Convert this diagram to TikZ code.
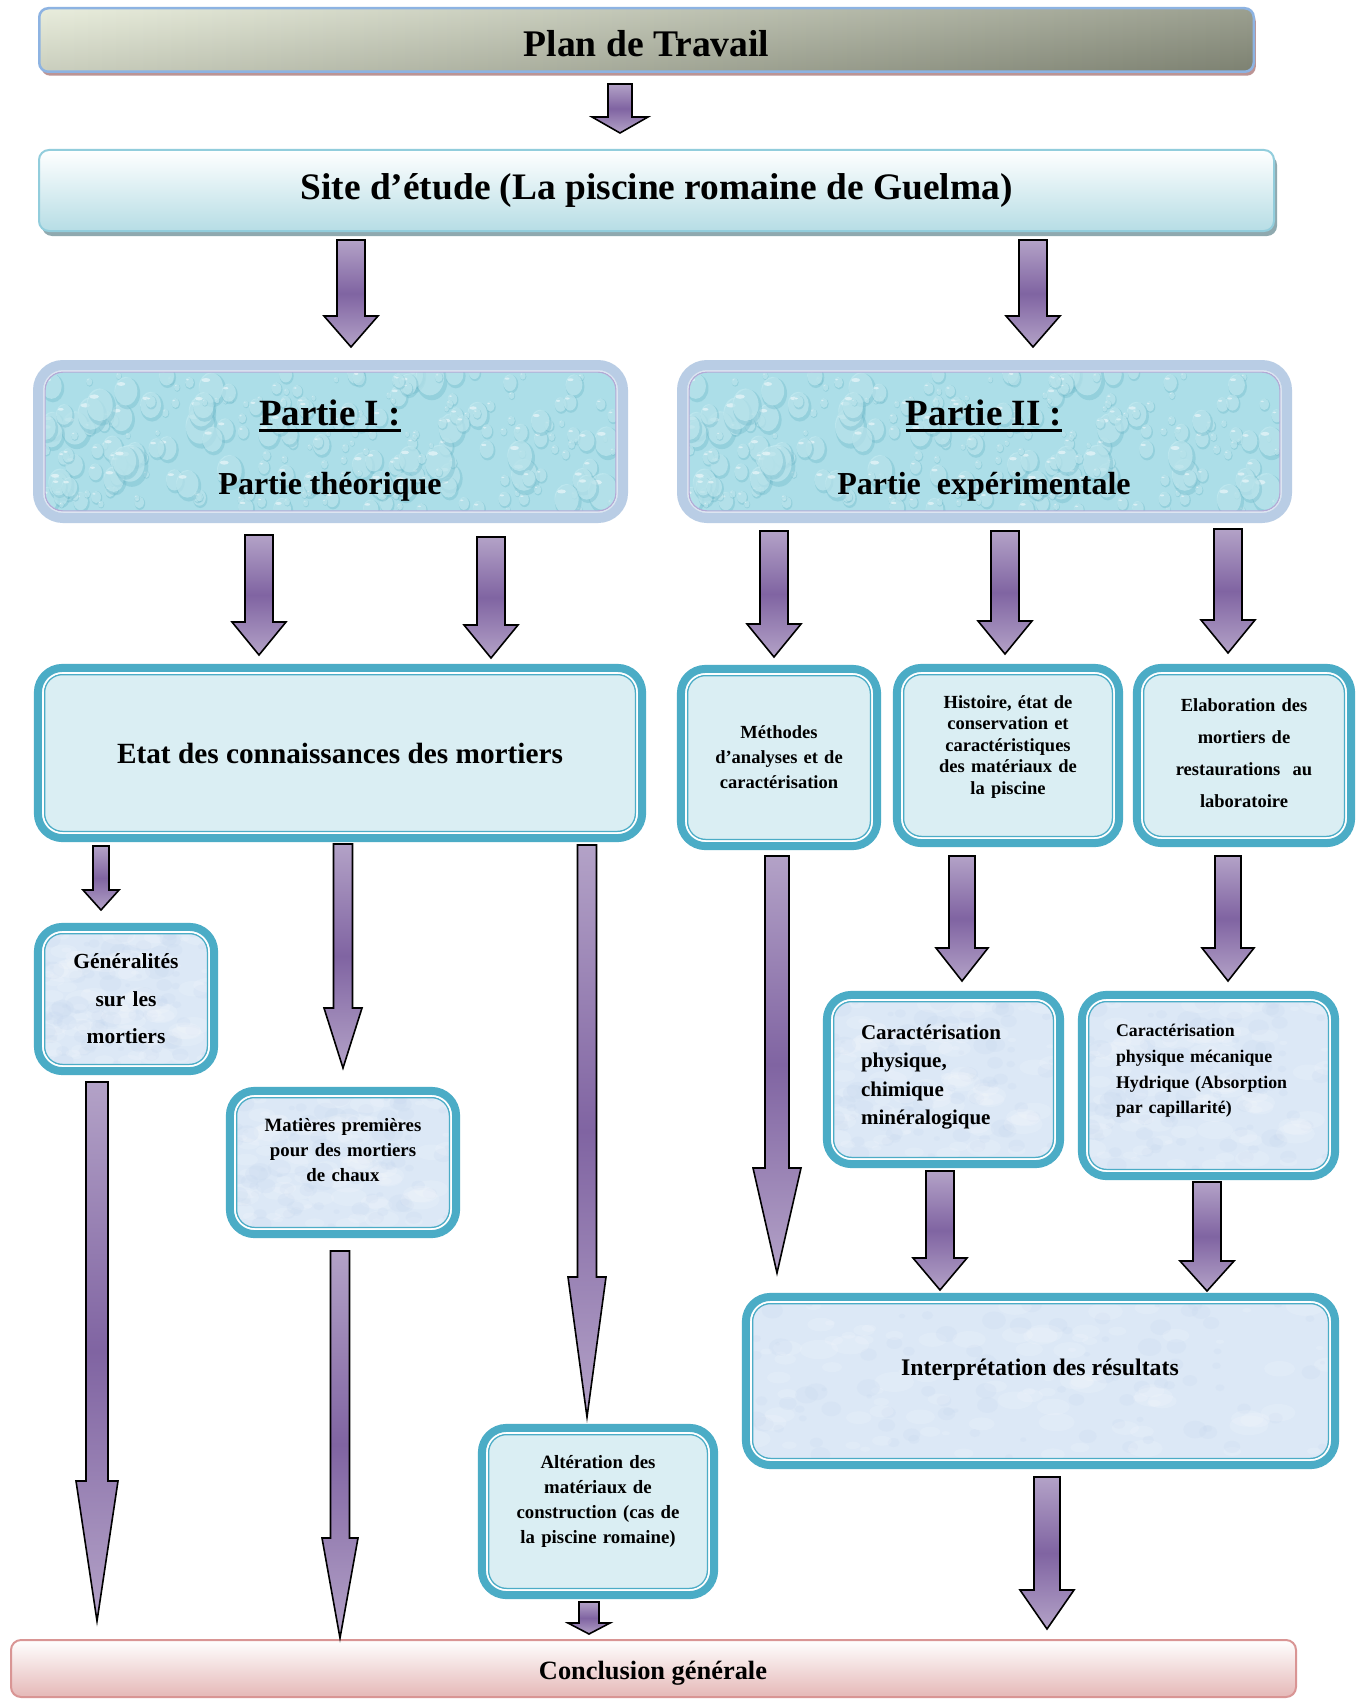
\documentclass[tikz,border=0pt]{standalone}
\usepackage{fontspec}
\setmainfont{Liberation Serif}
\usetikzlibrary{calc,shadows}

\definecolor{tealc}{HTML}{4BACC6}
\definecolor{paleblue}{HTML}{DAEEF3}
\definecolor{parch}{HTML}{DCE8F6}
\definecolor{parchdark}{HTML}{C4D6EE}
\definecolor{partband}{HTML}{B9CDE5}
\definecolor{partgap}{HTML}{DCE5F1}
\definecolor{partline}{HTML}{B3AAD6}
\definecolor{waterbase}{HTML}{ACDEE8}
\definecolor{droplight}{HTML}{C8ECF2}
\definecolor{dropedge}{HTML}{6AB6C7}
\definecolor{arrlight}{HTML}{B3A2C7}
\definecolor{arrdark}{HTML}{8064A2}
\definecolor{arrshadow}{HTML}{3F3151}
\definecolor{planleft}{HTML}{E6EBD8}
\definecolor{planright}{HTML}{8E9381}
\definecolor{planborder}{HTML}{8DB3E2}
\definecolor{planshadow}{HTML}{BC9494}
\definecolor{siteborder}{HTML}{92CDDC}
\definecolor{sitebottom}{HTML}{B6DDE5}
\definecolor{siteshadow}{HTML}{8FA9AF}
\definecolor{conclborder}{HTML}{D99594}
\definecolor{conclbottom}{HTML}{E5B8B7}

% vertical block arrow: #1 top, #2 tip, #3 half shaft, #4 half head, #5 head length
\newcommand\blockarrow[5]{%
  \path[fill=arrshadow, shift={(3pt,-3pt)}] let \p1=#1, \p2=#2 in
    (\x1-#3pt,\y1) -- (\x1+#3pt,\y1) -- (\x1+#3pt,\y2+#5pt) -- (\x1+#4pt,\y2+#5pt)
    -- (\x1,\y2) -- (\x1-#4pt,\y2+#5pt) -- (\x1-#3pt,\y2+#5pt) -- cycle;
  \path[draw=black, line width=1.6, line join=miter,
        top color=arrlight, bottom color=arrlight, middle color=arrdark] let \p1=#1, \p2=#2 in
    (\x1-#3pt,\y1) -- (\x1+#3pt,\y1) -- (\x1+#3pt,\y2+#5pt) -- (\x1+#4pt,\y2+#5pt)
    -- (\x1,\y2) -- (\x1-#4pt,\y2+#5pt) -- (\x1-#3pt,\y2+#5pt) -- cycle;
}

% size of the current path picture, stored in \texw and \texh
\newcommand\texsize{%
  \path let \p1=(path picture bounding box.north west), \p2=(path picture bounding box.south east) in
    \pgfextra{\pgfmathsetmacro\ppw{\x2-\x1}\pgfmathsetmacro\pph{\y1-\y2}%
      \global\let\texw\ppw\global\let\texh\pph};%
}

% water drops filling the two part headers
\newcommand\watertexture{%
  \pgfmathsetseed{23}%
  \texsize
  \foreach \k in {1,...,260}{%
    \pgfmathsetmacro\dx{rnd*\texw}%
    \pgfmathsetmacro\dy{rnd*\texh}%
    \pgfmathsetmacro\dr{3+21*rnd*rnd}%
    \coordinate (dc) at ($(path picture bounding box.north west)+(\dx,\dy)$);
    \fill[dropedge, opacity=.35] ($(dc)+(0.1*\dr,0.15*\dr)$) ellipse [x radius=0.8*\dr, y radius=\dr];
    \fill[droplight, opacity=.6] (dc) ellipse [x radius=0.72*\dr, y radius=0.9*\dr];
    \fill[white, opacity=.5] ($(dc)+(-0.3*\dr,-0.45*\dr)$) ellipse [x radius=0.26*\dr, y radius=0.12*\dr];
  }%
}

% mottled paper fill
\newcommand\parchtexture{%
  \pgfmathsetseed{11}%
  \texsize
  \foreach \k in {1,...,90}{%
    \pgfmathsetmacro\dx{rnd*\texw}%
    \pgfmathsetmacro\dy{rnd*\texh}%
    \pgfmathsetmacro\ex{rnd*\texw}%
    \pgfmathsetmacro\ey{rnd*\texh}%
    \pgfmathsetmacro\dr{4+16*rnd}%
    \fill[white, opacity=.14] ($(path picture bounding box.north west)+(\dx,\dy)$) ellipse [x radius=\dr, y radius=0.5*\dr];
    \fill[parchdark, opacity=.2] ($(path picture bounding box.north west)+(\ex,\ey)$) ellipse [x radius=0.6*\dr, y radius=0.45*\dr];
  }%
}

\begin{document}
\begin{tikzpicture}[x=1pt, y=-1pt,
  every node/.style={inner sep=0pt, outer sep=0pt},
  fsize/.style 2 args={font=\bfseries\fontsize{#1}{#2}\selectfont},
  tealbox/.style={rectangle, rounded corners=18, draw=tealc, line width=1.5, fill=paleblue},
  parchbox/.style={tealbox, fill=parch, path picture={\parchtexture}},
  partbox/.style={rectangle, rounded corners=18, draw=partline, line width=1.4, fill=waterbase,
                  path picture={\watertexture}},
  stack/.style={align=center, text width=#1},
  leftstack/.style={align=left, text width=#1, anchor=west},
]
\useasboundingbox (0,0) rectangle (1362,1699);
\fill[white] (0,0) rectangle (1362,1699);

% header boxes
\node (plan) at (646.5,40) [rectangle, rounded corners=9, minimum width=1214.5, minimum height=63.5,
  draw=planborder, line width=2.5, left color=planleft, right color=planright,
  drop shadow={shadow xshift=2pt, shadow yshift=-4pt, fill=planshadow, opacity=1},
  path picture={\shade[top color=white, bottom color=black, opacity=.12]
    (path picture bounding box.north west) rectangle (path picture bounding box.south east);},
  fsize={37.6}{44}, text height=34pt, text depth=0pt] {Plan de Travail};

\node (site) at (656.5,190.5) [rectangle, rounded corners=10, minimum width=1235, minimum height=81,
  draw=siteborder, line width=2, top color=white, bottom color=sitebottom,
  drop shadow={shadow xshift=3pt, shadow yshift=-5pt, fill=siteshadow, opacity=1},
  fsize={37.4}{44}] {Site d’étude (La piscine romaine de Guelma)};

% the two parts
\node (p1) at (330.5,441.5) [partbox, minimum width=571, minimum height=139] {};
\node (p2) at (984.5,441.5) [partbox, minimum width=591, minimum height=139] {};
\foreach \n in {p1,p2}{
  \draw[partgap, line width=1.6, rounded corners=19.5]
    ([shift={(-1.5,-1.5)}]\n.north west) rectangle ([shift={(1.5,1.5)}]\n.south east);
  \draw[partband, line width=10, rounded corners=25]
    ([shift={(-7,-7)}]\n.north west) rectangle ([shift={(7,7)}]\n.south east);
}
\node (p1-title) at (330,413) [fsize={37}{44}] {Partie I :};
\node (p1-sub) at (330,487) [fsize={32}{38}] {Partie théorique};
\node (p2-title) at (984,413) [fsize={37}{44}] {Partie II :};
\node (p2-sub) at (984,487) [fsize={32}{38}] {Partie\ \ expérimentale};
\foreach \t in {p1-title,p2-title}
  \draw[line width=3] ([yshift=-4.5pt]\t.base west) -- ([yshift=-4.5pt]\t.base east);

% content boxes
\node (etat) at (340,753) [tealbox, minimum width=591, minimum height=157, fsize={29.3}{35}]
  {Etat des connaissances des mortiers};
\node (meth) at (779,757.5) [tealbox, minimum width=183, minimum height=164, fsize={18.5}{25}, stack=175pt]
  {Méthodes\\ d’analyses et de\\ caractérisation};
\node (hist) at (1008,755.5) [tealbox, minimum width=209, minimum height=162] {};
\node (hist-txt) at (1008,747) [fsize={18.5}{21.5}, stack=200pt]
  {Histoire, état de\\ conservation et\\ caractéristiques\\ des matériaux de\\ la piscine};
\node (elab) at (1244,755.5) [tealbox, minimum width=201, minimum height=162] {};
\node (elab-txt) at (1244,753) [fsize={18.5}{32}, stack=195pt]
  {Elaboration des\\ mortiers de\\ restaurations\ \ au\\ laboratoire};
\node (gen) at (126,999) [parchbox, minimum width=163, minimum height=131, fsize={21.5}{37.5}, stack=150pt]
  {Généralités\\ sur les\\ mortiers};
\node (mat) at (343,1162.5) [parchbox, minimum width=213, minimum height=130] {};
\node (mat-txt) at (343,1150) [fsize={18.8}{25}, stack=205pt]
  {Matières premières\\ pour des mortiers\\ de chaux};
\node (alt) at (598,1511.5) [tealbox, minimum width=219, minimum height=154] {};
\node (alt-txt) at (598,1501) [fsize={18.8}{25}, stack=215pt]
  {Altération des\\ matériaux de\\ construction (cas de\\ la piscine romaine)};
\node (car1) at (943.5,1079.5) [parchbox, minimum width=220, minimum height=156] {};
\node (car1-txt) at (861,1077) [fsize={21}{28.3}, leftstack=195pt]
  {Caractérisation\\ physique,\\ chimique\\ minéralogique};
\node (car2) at (1208.5,1085.5) [parchbox, minimum width=240, minimum height=168] {};
\node (car2-txt) at (1116,1071) [fsize={17.8}{25.7}, leftstack=215pt]
  {Caractérisation\\ physique mécanique\\ Hydrique (Absorption\\ par capillarité)};
\node (interp) at (1040.5,1381) [parchbox, minimum width=576, minimum height=155] {};
\node (interp-txt) at (1040,1370) [fsize={23.8}{28}] {Interprétation des résultats};

\node (concl) at (653.5,1668.5) [rectangle, rounded corners=10, minimum width=1285, minimum height=57,
  draw=conclborder, line width=2, top color=white, bottom color=conclbottom] {};
\node (concl-txt) at (653,1673) [fsize={26.4}{32}] {Conclusion générale};

% double frames of the content boxes
\foreach \n in {etat,meth,hist,elab,gen,mat,alt,car1,car2,interp}{
  \draw[white, line width=2, rounded corners=19.75]
    ([shift={(-1.75,-1.75)}]\n.north west) rectangle ([shift={(1.75,1.75)}]\n.south east);
  \draw[tealc, line width=8, rounded corners=24.6]
    ([shift={(-6.6,-6.6)}]\n.north west) rectangle ([shift={(6.6,6.6)}]\n.south east);
}

% arrow ends
\coordinate (a0s) at (620,84);    \coordinate (a0e) at (620,133);
\coordinate (a1s) at (351,240);   \coordinate (a1e) at (351,347);
\coordinate (a2s) at (1033,240);  \coordinate (a2e) at (1033,347);
\coordinate (a3s) at (259,535);   \coordinate (a3e) at (259,655);
\coordinate (a4s) at (491,537);   \coordinate (a4e) at (491,658);
\coordinate (a5s) at (774,531);   \coordinate (a5e) at (774,657);
\coordinate (a6s) at (1005,531);  \coordinate (a6e) at (1005,654);
\coordinate (a7s) at (1228,529);  \coordinate (a7e) at (1228,653);
\coordinate (a8s) at (101,846);   \coordinate (a8e) at (101,910);
\coordinate (a9s) at (343,844);   \coordinate (a9e) at (343,1068);
\coordinate (a10s) at (587,845);  \coordinate (a10e) at (587,1417);
\coordinate (a11s) at (97,1082);  \coordinate (a11e) at (97,1621);
\coordinate (a12s) at (340,1251); \coordinate (a12e) at (340,1638);
\coordinate (a13s) at (589,1602); \coordinate (a13e) at (589,1634);
\coordinate (a14s) at (777,856);  \coordinate (a14e) at (777,1273);
\coordinate (a15s) at (962,856);  \coordinate (a15e) at (962,981);
\coordinate (a16s) at (1228,856); \coordinate (a16e) at (1228,981);
\coordinate (a17s) at (940,1171); \coordinate (a17e) at (940,1290);
\coordinate (a18s) at (1207,1182);\coordinate (a18e) at (1207,1291);
\coordinate (a19s) at (1047,1477);\coordinate (a19e) at (1047,1629);

% arrows
\blockarrow{(a0s)}{(a0e)}{12}{28}{16}
\blockarrow{(a1s)}{(a1e)}{14}{27}{31}
\blockarrow{(a2s)}{(a2e)}{14}{27}{31}
\blockarrow{(a3s)}{(a3e)}{14}{27}{33}
\blockarrow{(a4s)}{(a4e)}{14}{27}{33}
\blockarrow{(a5s)}{(a5e)}{14}{27}{33}
\blockarrow{(a6s)}{(a6e)}{14}{27}{33}
\blockarrow{(a7s)}{(a7e)}{14}{27}{33}
\blockarrow{(a8s)}{(a8e)}{8}{18}{20}
\blockarrow{(a9s)}{(a9e)}{9.5}{19}{60}
\blockarrow{(a10s)}{(a10e)}{9.5}{19}{140}
\blockarrow{(a11s)}{(a11e)}{11}{21}{140}
\blockarrow{(a12s)}{(a12e)}{9.5}{18}{100}
\blockarrow{(a13s)}{(a13e)}{10}{21}{11}
\blockarrow{(a14s)}{(a14e)}{12}{24}{105}
\blockarrow{(a15s)}{(a15e)}{13}{26}{33}
\blockarrow{(a16s)}{(a16e)}{13}{26}{33}
\blockarrow{(a17s)}{(a17e)}{14}{27}{32}
\blockarrow{(a18s)}{(a18e)}{14}{27}{30}
\blockarrow{(a19s)}{(a19e)}{13}{27}{39}
\end{tikzpicture}
\end{document}
